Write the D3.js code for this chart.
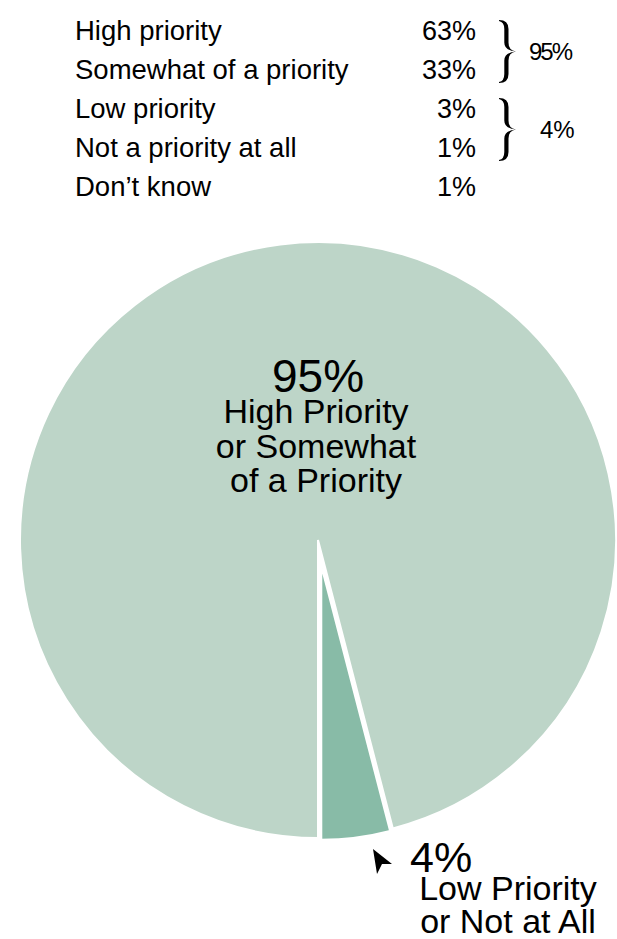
<!DOCTYPE html>
<html>
<head>
<meta charset="utf-8" />
<title>Priority pie</title>
<script src="https://cdn.jsdelivr.net/npm/d3@7/dist/d3.min.js"></script>
<style>
  body { margin: 0; background: #fff; }
  text { font-family: "Liberation Sans", Arial, sans-serif; fill: #000; }
</style>
</head>
<body>
<div id="chart"></div>
<script type="text/javascript">
// table at the top
var rowLabels = ["High priority", "Somewhat of a priority", "Low priority", "Not a priority at all", "Don\u2019t know"];
var rowValues = [63, 33, 3, 1, 1];
// brackets: which rows get summed
var groupRows = [[0, 1], [2, 3]];
var groupTotals = [95, 4];

// the pie itself
var pieLabels = [["High Priority", "or Somewhat", "of a Priority"], ["Low Priority", "or Not at All"]];
var pieValues = [95, 4];
var pieColors = ["#bdd5c8", "#88bba7"];

var W = 617, H = 939;
var svg = d3.select("#chart").append("svg").attr("width", W).attr("height", H);

// ---- table ----
var rowY = d3.scaleLinear().domain([0, rowLabels.length - 1]).range([40, 196]);

svg.selectAll("text.lab").data(rowLabels).enter().append("text")
  .attr("class", "lab")
  .attr("x", 75)
  .attr("y", function(d, i) { return rowY(i); })
  .style("font-size", "27.5px")
  .text(function(d) { return d; });

svg.selectAll("text.val").data(rowValues).enter().append("text")
  .attr("class", "val")
  .attr("x", 476)
  .attr("y", function(d, i) { return rowY(i); })
  .attr("text-anchor", "end")
  .style("font-size", "27px")
  .text(function(d) { return d + "%"; });

// filled curly brace, thicker in the middle like a serif glyph
function bracePath(x, y0, y1, w) {
  var ym = (y0 + y1) / 2, q = 9, xm = x + w / 2, t = 3.2;
  return "M" + x + "," + y0 +
    " Q" + (xm + 1) + "," + y0 + " " + (xm + 1) + "," + (y0 + q) +
    " L" + (xm + 1) + "," + (ym - q) +
    " Q" + (xm + 1) + "," + (ym - 1) + " " + (x + w) + "," + ym +
    " Q" + (xm + 1) + "," + (ym + 1) + " " + (xm + 1) + "," + (ym + q) +
    " L" + (xm + 1) + "," + (y1 - q) +
    " Q" + (xm + 1) + "," + y1 + " " + x + "," + y1 +
    " L" + x + "," + (y1 - 1) +
    " Q" + (xm - t) + "," + (y1 - 2) + " " + (xm - t) + "," + (y1 - q) +
    " L" + (xm - t) + "," + (ym + q) +
    " Q" + (xm - t) + "," + (ym + 1) + " " + (x + w) + "," + ym +
    " Q" + (xm - t) + "," + (ym - 1) + " " + (xm - t) + "," + (ym - q) +
    " L" + (xm - t) + "," + (y0 + q) +
    " Q" + (xm - t) + "," + (y0 + 2) + " " + x + "," + (y0 + 1) + " Z";
}

groupRows.forEach(function(g, k) {
  var y0 = rowY(g[0]) - 20, y1 = rowY(g[1]) + 4;
  svg.append("path")
    .attr("d", bracePath(499, y0, y1, 17))
    .attr("fill", "#000");
  svg.append("text")
    .attr("x", k == 0 ? 529 : 540)
    .attr("y", (y0 + y1) / 2 + 8)
    .style("font-size", "24px")
    .style("letter-spacing", k == 0 ? "-2px" : "0px")
    .text(groupTotals[k] + "%");
});

// ---- pie ----
var cx = 318, cy = 540, R = 298;
var pie = d3.pie().sort(null).startAngle(Math.PI).endAngle(3 * Math.PI);
var arcs = pie(pieValues);
var arcBig = d3.arc().innerRadius(0).outerRadius(R);
var arcSmall = d3.arc().innerRadius(0).outerRadius(R - 24);

var g = svg.append("g").attr("transform", "translate(" + cx + "," + cy + ")");

g.append("path")
  .attr("d", arcBig(arcs[0]))
  .attr("fill", pieColors[0])
  .attr("stroke", "#fff")
  .attr("stroke-width", 2);

// small slice pulled out a bit along its middle
var mid = (arcs[1].startAngle + arcs[1].endAngle) / 2;
var off = 26;
g.append("path")
  .attr("d", arcSmall(arcs[1]))
  .attr("transform", "translate(" + (off * Math.sin(mid)) + "," + (-off * Math.cos(mid)) + ")")
  .attr("fill", pieColors[1])
  .attr("stroke", "#fff")
  .attr("stroke-width", 2);

// label inside the big slice
g.append("text")
  .attr("x", 0).attr("y", 392 - cy)
  .attr("text-anchor", "middle")
  .style("font-size", "46px")
  .text(pieValues[0] + "%");
pieLabels[0].forEach(function(t, i) {
  g.append("text")
    .attr("x", -2).attr("y", 423 - cy + i * 34.5)
    .attr("text-anchor", "middle")
    .style("font-size", "34px")
    .text(t);
});

// label for the small slice, below the pie, with a pointer
var lx = 410, ly = 872;
svg.append("text")
  .attr("x", lx).attr("y", ly)
  .style("font-size", "43px")
  .text(pieValues[1] + "%");
pieLabels[1].forEach(function(t, i) {
  svg.append("text")
    .attr("x", lx + 98).attr("y", ly + 28 + i * 33)
    .attr("text-anchor", "middle")
    .style("font-size", "34px")
    .text(t);
});
// arrowhead pointing back at the slice
svg.append("path")
  .attr("d", "M0,0 L19,15 L9,15 L4,25 Z")
  .attr("transform", "translate(" + (lx - 37) + "," + (ly - 23) + ")")
  .attr("fill", "#000");
</script>
</body>
</html>
